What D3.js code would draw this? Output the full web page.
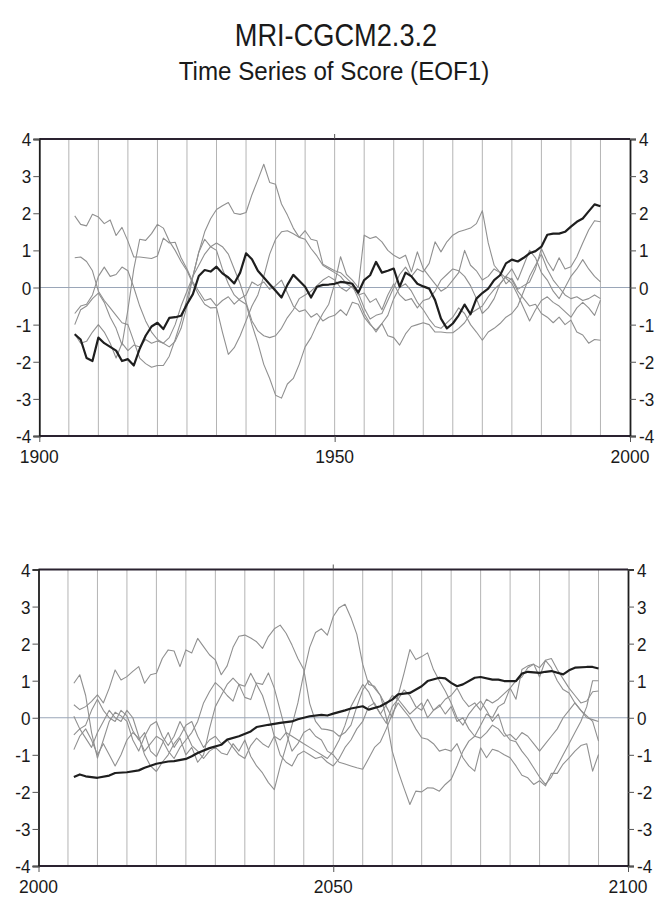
<!DOCTYPE html>
<html><head><meta charset="utf-8">
<script src="https://cdn.jsdelivr.net/npm/d3@7/dist/d3.min.js"></script>
<style>html,body{margin:0;padding:0;background:#fff;}svg{display:block;}</style>
</head><body>
<script>
const titleText = "MRI-CGCM2.3.2";
const subtitleText = "Time Series of Score (EOF1)";
const yTicks = [-4,-3,-2,-1,0,1,2,3,4];
const topXLabels = [1900,1950,2000];
const bottomXLabels = [2000,2050,2100];

// ---- top panel (1906-1995) ----
const topBold = [[1906,-1.26],[1907,-1.4],[1908,-1.9],[1909,-1.98],[1910,-1.35],[1911,-1.5],[1912,-1.6],[1913,-1.7],[1914,-1.98],[1915,-1.93],[1916,-2.1],[1917,-1.65],[1918,-1.3],[1919,-1.05],[1920,-0.95],[1921,-1.12],[1922,-0.82],[1923,-0.8],[1924,-0.76],[1925,-0.45],[1926,-0.18],[1927,0.31],[1928,0.47],[1929,0.43],[1930,0.56],[1931,0.38],[1932,0.27],[1933,0.11],[1934,0.4],[1935,0.92],[1936,0.76],[1937,0.45],[1938,0.27],[1939,0.09],[1940,-0.09],[1941,-0.27],[1942,0.07],[1943,0.34],[1944,0.18],[1945,0.02],[1946,-0.27],[1947,0.02],[1948,0.07],[1949,0.08],[1950,0.1],[1951,0.15],[1952,0.13],[1953,0.1],[1954,-0.14],[1955,0.2],[1956,0.33],[1957,0.69],[1958,0.4],[1959,0.45],[1960,0.51],[1961,0.02],[1962,0.4],[1963,0.3],[1964,0.1],[1965,0.03],[1966,-0.03],[1967,-0.34],[1968,-0.84],[1969,-1.1],[1970,-0.97],[1971,-0.75],[1972,-0.46],[1973,-0.72],[1974,-0.3],[1975,-0.15],[1976,-0.03],[1977,0.2],[1978,0.33],[1979,0.65],[1980,0.75],[1981,0.7],[1982,0.8],[1983,0.92],[1984,0.98],[1985,1.1],[1986,1.42],[1987,1.45],[1988,1.45],[1989,1.5],[1990,1.64],[1991,1.77],[1992,1.86],[1993,2.05],[1994,2.24],[1995,2.19]];

const topThinA = [[1906,1.93],[1907,1.7],[1908,1.66],[1909,1.97],[1910,1.9],[1911,1.72],[1912,1.82],[1913,1.4],[1914,1.62],[1915,1.25],[1916,0.82],[1917,0.82],[1918,0.8],[1919,0.78],[1920,0.85],[1921,1.33],[1922,1.2],[1923,1.22],[1924,0.8],[1925,0.5],[1926,0.15],[1927,-0.1],[1928,-0.35],[1929,-0.3],[1930,-0.5],[1931,-0.35],[1932,-0.25],[1933,-0.45],[1934,-0.3],[1935,-0.2],[1936,0.15],[1937,0.05],[1938,0.15],[1939,-0.05],[1940,0.05],[1941,0.2],[1942,-0.15],[1943,-0.5],[1944,-0.65],[1945,-0.6],[1946,-0.8],[1947,-0.7],[1948,-0.9],[1949,-0.8],[1950,-0.75],[1951,-0.6],[1952,-0.75],[1953,-0.4],[1954,-0.45],[1955,-0.8],[1956,-1.0],[1957,-1.15],[1958,-0.97],[1959,-1.3],[1960,-1.35],[1961,-1.55],[1962,-1.25],[1963,-1.05],[1964,-1.0],[1965,-0.95],[1966,-1.0],[1967,-1.2],[1968,-1.2],[1969,-1.22],[1970,-1.22],[1971,-1.1],[1972,-0.95],[1973,-0.7],[1974,-0.6],[1975,-0.5],[1976,-0.25],[1977,-0.05],[1978,0.1],[1979,0.3],[1980,0.2],[1981,-0.1],[1982,-0.3],[1983,-0.5],[1984,-0.45],[1985,-0.7],[1986,-0.8],[1987,-0.95],[1988,-0.8],[1989,-1.0],[1990,-0.88],[1991,-1.2],[1992,-1.28],[1993,-1.5],[1994,-1.4],[1995,-1.42]];

const topThinB = [[1906,0.8],[1907,0.82],[1908,0.7],[1909,0.45],[1910,-0.1],[1911,-0.35],[1912,-0.55],[1913,-0.75],[1914,-0.95],[1915,-1.0],[1916,-1.45],[1917,-1.9],[1918,-2.05],[1919,-2.15],[1920,-2.1],[1921,-2.1],[1922,-1.85],[1923,-1.4],[1924,-0.9],[1925,-0.3],[1926,0.3],[1927,0.95],[1928,1.5],[1929,1.85],[1930,2.1],[1931,2.2],[1932,2.29],[1933,2.0],[1934,1.97],[1935,2.02],[1936,2.5],[1937,2.9],[1938,3.32],[1939,2.83],[1940,2.78],[1941,2.25],[1942,1.95],[1943,1.6],[1944,1.35],[1945,1.3],[1946,1.05],[1947,0.85],[1948,0.6],[1949,0.5],[1950,0.4],[1951,0.3],[1952,0.1],[1953,0.0],[1954,-0.15],[1955,-0.55],[1956,-0.85],[1957,-0.75],[1958,-0.7],[1959,-0.35],[1960,0.0],[1961,0.35],[1962,0.55],[1963,0.3],[1964,0.5],[1965,0.42],[1966,0.65],[1967,1.23],[1968,0.96],[1969,1.23],[1970,1.41],[1971,1.5],[1972,1.55],[1973,1.6],[1974,1.72],[1975,2.07],[1976,1.2],[1977,0.6],[1978,0.4],[1979,0.25],[1980,0.11],[1981,-0.2],[1982,-0.55],[1983,-0.9],[1984,-0.6],[1985,-0.35],[1986,-0.25],[1987,-0.4],[1988,-0.5],[1989,-0.65],[1990,-0.8],[1991,-0.55],[1992,-0.4],[1993,-0.55],[1994,-0.75],[1995,-0.34]];

const topThinC = [[1906,-0.7],[1907,-0.5],[1908,-0.45],[1909,-0.2],[1910,0.3],[1911,0.55],[1912,0.3],[1913,0.35],[1914,0.55],[1915,0.45],[1916,0.0],[1917,-0.5],[1918,-0.9],[1919,-1.2],[1920,-1.4],[1921,-1.5],[1922,-1.6],[1923,-1.45],[1924,-1.1],[1925,-0.5],[1926,0.3],[1927,0.95],[1928,1.3],[1929,1.1],[1930,1.0],[1931,0.5],[1932,0.1],[1933,-0.2],[1934,-0.35],[1935,-0.45],[1936,-1.0],[1937,-1.5],[1938,-2.07],[1939,-2.45],[1940,-2.9],[1941,-2.98],[1942,-2.6],[1943,-2.45],[1944,-2.07],[1945,-1.6],[1946,-1.35],[1947,-1.0],[1948,-0.7],[1949,-0.45],[1950,0.1],[1951,0.83],[1952,0.35],[1953,0.2],[1954,0.0],[1955,1.41],[1956,1.32],[1957,1.37],[1958,1.23],[1959,1.0],[1960,0.87],[1961,0.78],[1962,0.87],[1963,0.42],[1964,0.96],[1965,0.51],[1966,0.3],[1967,0.1],[1968,-0.1],[1969,0.0],[1970,0.2],[1971,0.4],[1972,1.0],[1973,0.6],[1974,0.45],[1975,0.2],[1976,0.3],[1977,0.5],[1978,0.4],[1979,0.1],[1980,0.25],[1981,-0.05],[1982,0.05],[1983,0.15],[1984,0.5],[1985,1.05],[1986,0.7],[1987,0.45],[1988,0.8],[1989,0.5],[1990,0.56],[1991,0.83],[1992,1.2],[1993,1.55],[1994,1.8],[1995,1.77]];

const topThinD = [[1906,-1.0],[1907,-0.6],[1908,-0.5],[1909,-0.3],[1910,-0.15],[1911,-0.4],[1912,-0.8],[1913,-1.1],[1914,-1.55],[1915,-0.6],[1916,0.5],[1917,1.3],[1918,1.27],[1919,1.45],[1920,1.7],[1921,1.6],[1922,1.25],[1923,1.0],[1924,0.7],[1925,0.45],[1926,0.1],[1927,-0.2],[1928,-0.45],[1929,-0.55],[1930,-0.54],[1931,-1.2],[1932,-1.8],[1933,-1.62],[1934,-1.3],[1935,-0.9],[1936,-0.5],[1937,-0.2],[1938,0.3],[1939,0.9],[1940,1.3],[1941,1.5],[1942,1.53],[1943,1.45],[1944,1.35],[1945,1.53],[1946,1.3],[1947,1.26],[1948,0.63],[1949,0.54],[1950,0.45],[1951,0.4],[1952,0.25],[1953,0.1],[1954,-0.2],[1955,-0.15],[1956,-0.4],[1957,-0.3],[1958,-0.6],[1959,-0.2],[1960,0.1],[1961,-0.2],[1962,-0.35],[1963,-0.3],[1964,-0.55],[1965,-0.35],[1966,-0.3],[1967,-0.1],[1968,0.2],[1969,0.35],[1970,0.5],[1971,0.45],[1972,0.3],[1973,0.05],[1974,-0.3],[1975,-0.7],[1976,-0.55],[1977,-0.3],[1978,0.1],[1979,0.3],[1980,0.5],[1981,0.2],[1982,0.6],[1983,1.0],[1984,0.8],[1985,0.4],[1986,0.2],[1987,-0.1],[1988,-0.3],[1989,0.0],[1990,0.3],[1991,0.5],[1992,0.75],[1993,0.5],[1994,0.3],[1995,0.15]];

const topThinE = [[1906,-1.25],[1907,-1.5],[1908,-1.45],[1909,-1.2],[1910,-1.0],[1911,-1.2],[1912,-1.5],[1913,-1.9],[1914,-1.5],[1915,-1.7],[1916,-1.55],[1917,-1.6],[1918,-1.4],[1919,-1.5],[1920,-1.44],[1921,-1.5],[1922,-1.35],[1923,-1.0],[1924,-0.5],[1925,-0.1],[1926,0.3],[1927,0.6],[1928,0.9],[1929,1.1],[1930,1.2],[1931,1.1],[1932,0.9],[1933,0.5],[1934,0.1],[1935,-0.4],[1936,-0.9],[1937,-1.17],[1938,-1.3],[1939,-1.35],[1940,-1.3],[1941,-1.1],[1942,-0.81],[1943,-0.6],[1944,-0.3],[1945,-0.2],[1946,-0.1],[1947,0.05],[1948,0.2],[1949,0.3],[1950,0.2],[1951,0.0],[1952,-0.1],[1953,0.05],[1954,-0.3],[1955,-0.7],[1956,-0.97],[1957,-1.2],[1958,-0.97],[1959,-0.75],[1960,-0.3],[1961,0.0],[1962,0.1],[1963,-0.1],[1964,-0.4],[1965,-0.6],[1966,-0.85],[1967,-1.05],[1968,-1.1],[1969,-0.95],[1970,-0.8],[1971,-0.55],[1972,-0.7],[1973,-1.0],[1974,-1.2],[1975,-1.42],[1976,-1.2],[1977,-1.1],[1978,-0.97],[1979,-0.8],[1980,-0.7],[1981,-0.5],[1982,-0.1],[1983,0.3],[1984,0.6],[1985,0.9],[1986,0.5],[1987,0.2],[1988,0.0],[1989,-0.2],[1990,-0.3],[1991,-0.25],[1992,-0.35],[1993,-0.3],[1994,-0.2],[1995,-0.3]];

// ---- bottom panel (2006-2095) ----
const bottomBold = [[2006,-1.6],[2007,-1.53],[2008,-1.58],[2010,-1.62],[2012,-1.56],[2013,-1.49],[2015,-1.47],[2017,-1.42],[2018,-1.35],[2020,-1.24],[2022,-1.18],[2023,-1.17],[2025,-1.11],[2026,-1.04],[2027,-0.95],[2029,-0.82],[2031,-0.73],[2032,-0.59],[2034,-0.5],[2036,-0.37],[2037,-0.25],[2039,-0.19],[2041,-0.14],[2043,-0.1],[2044,-0.04],[2046,0.04],[2048,0.08],[2049,0.06],[2050,0.11],[2052,0.2],[2053,0.25],[2055,0.31],[2056,0.22],[2058,0.31],[2060,0.49],[2061,0.63],[2063,0.67],[2065,0.85],[2066,0.99],[2068,1.08],[2069,1.06],[2070,0.94],[2071,0.85],[2072,0.9],[2074,1.08],[2075,1.1],[2077,1.03],[2078,1.03],[2079,0.99],[2081,0.99],[2082,1.19],[2083,1.24],[2085,1.21],[2086,1.24],[2087,1.26],[2089,1.17],[2090,1.28],[2091,1.35],[2093,1.37],[2094,1.37],[2095,1.33]];

const bottomThinA = [[2006,0.93],[2007,1.16],[2008,0.6],[2009,-0.4],[2010,-1.09],[2011,-0.6],[2012,-0.1],[2013,0.15],[2014,0.05],[2015,-0.1],[2016,-0.6],[2017,-0.9],[2018,-0.5],[2019,-0.2],[2020,-0.1],[2021,-0.5],[2022,-0.75],[2023,-0.5],[2024,-0.1],[2025,-0.4],[2026,-0.75],[2027,-0.9],[2028,-1.1],[2029,-0.9],[2030,-0.8],[2031,-0.95],[2032,-1.0],[2033,-0.7],[2034,-0.9],[2035,-0.6],[2036,-1.04],[2037,-1.3],[2038,-1.49],[2039,-1.75],[2040,-1.94],[2041,-1.31],[2042,-0.77],[2043,-0.2],[2044,0.4],[2045,1.2],[2046,1.9],[2047,2.3],[2048,2.4],[2049,2.23],[2050,2.73],[2051,2.97],[2052,3.06],[2053,2.7],[2054,2.25],[2055,1.44],[2056,0.9],[2057,0.85],[2058,0.6],[2059,0.0],[2060,-0.9],[2061,-1.44],[2062,-1.9],[2063,-2.34],[2064,-1.98],[2065,-2.0],[2066,-1.89],[2067,-1.9],[2068,-1.98],[2069,-1.8],[2070,-1.66],[2071,-1.3],[2072,-0.9],[2073,-0.63],[2074,-0.5],[2075,-0.2],[2076,0.1],[2077,0.0],[2078,0.3],[2079,0.4],[2080,0.8],[2081,0.5],[2082,1.3],[2083,1.4],[2084,1.45],[2085,1.1],[2086,1.55],[2087,1.35],[2088,1.0],[2089,0.76],[2090,0.67],[2091,0.4],[2092,0.2],[2093,0.05],[2094,-0.1],[2095,-0.63]];

const bottomThinB = [[2006,0.35],[2007,0.22],[2008,0.3],[2009,0.44],[2010,0.62],[2011,0.4],[2012,0.8],[2013,1.29],[2014,1.02],[2015,1.11],[2016,1.25],[2017,1.38],[2018,0.93],[2019,1.16],[2020,1.2],[2021,1.6],[2022,1.83],[2023,1.8],[2024,1.38],[2025,1.83],[2026,1.75],[2027,2.14],[2028,1.92],[2029,1.7],[2030,1.56],[2031,1.16],[2032,1.4],[2033,1.9],[2034,2.2],[2035,2.23],[2036,2.15],[2037,2.05],[2038,1.87],[2039,2.19],[2040,2.4],[2041,2.5],[2042,2.28],[2043,1.96],[2044,1.6],[2045,1.3],[2046,0.39],[2047,-0.1],[2048,-0.3],[2049,-0.32],[2050,-0.36],[2051,-0.5],[2052,-0.4],[2053,-0.2],[2054,0.3],[2055,0.75],[2056,1.0],[2057,0.8],[2058,0.6],[2059,0.3],[2060,0.0],[2061,0.6],[2062,1.2],[2063,1.84],[2064,1.57],[2065,1.65],[2066,1.75],[2067,1.3],[2068,1.0],[2069,0.72],[2070,0.4],[2071,0.0],[2072,-0.2],[2073,0.1],[2074,0.3],[2075,0.45],[2076,0.2],[2077,-0.1],[2078,0.1],[2079,-0.4],[2080,-0.6],[2081,-0.65],[2082,-0.9],[2083,-1.1],[2084,-1.35],[2085,-1.6],[2086,-1.8],[2087,-1.6],[2088,-1.3],[2089,-1.0],[2090,-0.7],[2091,-0.4],[2092,-0.1],[2093,0.3],[2094,1.0],[2095,1.0]];

const bottomThinC = [[2006,0.04],[2007,-0.3],[2008,-0.2],[2009,0.2],[2010,0.5],[2011,0.2],[2012,0.0],[2013,-0.1],[2014,0.2],[2015,0.05],[2016,-0.35],[2017,-0.6],[2018,-0.4],[2019,-0.9],[2020,-1.05],[2021,-0.7],[2022,-0.4],[2023,-0.8],[2024,-0.55],[2025,-1.0],[2026,-0.8],[2027,-1.2],[2028,-1.0],[2029,-0.3],[2030,0.3],[2031,0.6],[2032,0.9],[2033,1.07],[2034,0.9],[2035,0.55],[2036,0.49],[2037,0.94],[2038,0.9],[2039,1.21],[2040,0.8],[2041,0.2],[2042,-0.4],[2043,-0.9],[2044,-0.7],[2045,-0.4],[2046,-0.3],[2047,-0.5],[2048,-0.6],[2049,-0.9],[2050,-1.0],[2051,-1.2],[2052,-1.25],[2053,-1.3],[2054,-1.35],[2055,-1.39],[2056,-1.1],[2057,-0.8],[2058,-0.65],[2059,-0.3],[2060,0.1],[2061,0.4],[2062,0.2],[2063,0.0],[2064,-0.3],[2065,-0.54],[2066,-0.58],[2067,-0.7],[2068,-0.9],[2069,-0.85],[2070,-0.9],[2071,-0.7],[2072,-1.08],[2073,-1.3],[2074,-1.44],[2075,-0.81],[2076,-1.08],[2077,-0.85],[2078,-0.9],[2079,-1.0],[2080,-1.08],[2081,-1.3],[2082,-1.55],[2083,-1.62],[2084,-1.8],[2085,-1.7],[2086,-1.84],[2087,-1.5],[2088,-1.5],[2089,-1.25],[2090,-1.08],[2091,-0.9],[2092,-0.75],[2093,-0.7],[2094,-1.44],[2095,-0.99]];

const bottomThinD = [[2006,-0.46],[2007,-0.3],[2008,-0.55],[2009,-0.8],[2010,-0.4],[2011,-0.1],[2012,0.2],[2013,0.0],[2014,-0.1],[2015,0.2],[2016,0.0],[2017,-0.5],[2018,-1.0],[2019,-1.3],[2020,-1.45],[2021,-1.2],[2022,-1.0],[2023,-0.7],[2024,-0.5],[2025,-0.2],[2026,-0.1],[2027,-0.5],[2028,-0.8],[2029,-0.6],[2030,-0.5],[2031,-0.7],[2032,-0.6],[2033,-0.8],[2034,-1.0],[2035,-1.1],[2036,-0.75],[2037,-0.55],[2038,-0.7],[2039,-0.8],[2040,-0.5],[2041,-0.6],[2042,-0.4],[2043,-0.5],[2044,-0.6],[2045,-0.7],[2046,-0.8],[2047,-0.9],[2048,-1.0],[2049,-1.1],[2050,-0.9],[2051,-0.6],[2052,-0.2],[2053,0.3],[2054,0.6],[2055,0.9],[2056,0.7],[2057,0.35],[2058,0.1],[2059,-0.15],[2060,0.3],[2061,0.5],[2062,0.75],[2063,0.6],[2064,0.3],[2065,0.2],[2066,0.5],[2067,0.2],[2068,0.3],[2069,0.5],[2070,0.6],[2071,0.8],[2072,0.5],[2073,0.3],[2074,0.4],[2075,0.2],[2076,0.5],[2077,0.4],[2078,0.5],[2079,0.65],[2080,0.8],[2081,1.0],[2082,1.1],[2083,1.35],[2084,1.44],[2085,1.35],[2086,1.55],[2087,1.6],[2088,1.3],[2089,1.05],[2090,0.8],[2091,0.6],[2092,0.4],[2093,0.45],[2094,0.7],[2095,0.72]];

const bottomThinE = [[2006,-0.86],[2007,-0.5],[2008,-0.3],[2009,-0.6],[2010,-1.0],[2011,-0.7],[2012,-1.0],[2013,-1.3],[2014,-1.0],[2015,-0.6],[2016,-0.4],[2017,-0.55],[2018,-0.9],[2019,-0.7],[2020,-0.5],[2021,-0.6],[2022,-0.9],[2023,-1.1],[2024,-0.8],[2025,-0.6],[2026,-0.4],[2027,-0.1],[2028,0.4],[2029,0.7],[2030,0.95],[2031,0.8],[2032,0.6],[2033,0.45],[2034,0.9],[2035,0.85],[2036,1.2],[2037,0.9],[2038,0.6],[2039,0.1],[2040,-0.5],[2041,-1.0],[2042,-1.2],[2043,-1.3],[2044,-1.0],[2045,-0.9],[2046,-1.0],[2047,-1.1],[2048,-1.05],[2049,-1.2],[2050,-1.3],[2051,-1.1],[2052,-0.8],[2053,-0.6],[2054,-0.3],[2055,-0.1],[2056,0.3],[2057,0.4],[2058,0.1],[2059,0.35],[2060,0.6],[2061,0.5],[2062,0.3],[2063,0.1],[2064,0.25],[2065,0.4],[2066,0.0],[2067,0.2],[2068,0.35],[2069,0.1],[2070,0.3],[2071,-0.1],[2072,0.0],[2073,-0.3],[2074,-0.5],[2075,-0.55],[2076,-0.4],[2077,-0.2],[2078,-0.3],[2079,-0.5],[2080,-0.45],[2081,-0.6],[2082,-0.4],[2083,-0.5],[2084,-0.7],[2085,-0.9],[2086,-0.7],[2087,-0.5],[2088,-0.3],[2089,0.0],[2090,0.2],[2091,0.4],[2092,0.2],[2093,0.0],[2094,-0.05],[2095,-0.1]];

const W = 669, H = 900;
const svg = d3.select("body").append("svg").attr("width", W).attr("height", H);
const FONT = "'Liberation Sans', Arial, Helvetica, sans-serif";

function txt(x, y, s, size, anchor, sx) {
  svg.append("text")
    .attr("transform", `translate(${x},${y}) scale(${sx},1)`)
    .attr("text-anchor", anchor)
    .attr("font-family", FONT)
    .attr("font-size", size)
    .attr("fill", "#1a1a1a")
    .text(s);
}

txt(336, 46, titleText, 32, "middle", 0.85);
txt(334, 80, subtitleText, 26, "middle", 0.93);

function panel(cfg) {
  const x = d3.scaleLinear().domain(cfg.domain).range([cfg.left, cfg.right]);
  const y = d3.scaleLinear().domain([-4, 4]).range([cfg.bottom, cfg.top]);
  const g = svg.append("g");

  // vertical grid every 5 years
  const grid = d3.range(cfg.domain[0] + 5, cfg.domain[1], 5);
  g.selectAll("line.grid").data(grid).join("line")
    .attr("x1", d => x(d)).attr("x2", d => x(d))
    .attr("y1", y(-4)).attr("y2", y(4))
    .attr("stroke", "#b4b4b4").attr("stroke-width", 1);

  // zero line
  g.append("line").attr("x1", x(cfg.domain[0])).attr("x2", x(cfg.domain[1]))
    .attr("y1", y(0)).attr("y2", y(0)).attr("stroke", "#9aa6b8").attr("stroke-width", 1.1);

  const line = d3.line().x(d => x(d[0])).y(d => y(d[1]));
  cfg.thin.forEach(s => {
    g.append("path").datum(s).attr("d", line).attr("fill", "none")
      .attr("stroke", "#909090").attr("stroke-width", 1.1).attr("stroke-linejoin", "round");
  });
  g.append("path").datum(cfg.bold).attr("d", line).attr("fill", "none")
    .attr("stroke", "#1e1e1e").attr("stroke-width", 2.2).attr("stroke-linejoin", "round");

  // frame
  g.append("line").attr("x1", x(cfg.domain[0])).attr("x2", x(cfg.domain[1]))
    .attr("y1", y(4)).attr("y2", y(4)).attr("stroke", "#2a2230").attr("stroke-width", 2);
  g.append("line").attr("x1", x(cfg.domain[0])).attr("x2", x(cfg.domain[1]))
    .attr("y1", y(-4)).attr("y2", y(-4)).attr("stroke", "#2a2230").attr("stroke-width", 2);

  const yAxisL = d3.axisLeft(y).tickValues(yTicks).tickSize(6).tickFormat("");
  const yAxisR = d3.axisRight(y).tickValues(yTicks).tickSize(6).tickFormat("");
  const gl = g.append("g").attr("transform", `translate(${x(cfg.domain[0])},0)`).call(yAxisL);
  const gr = g.append("g").attr("transform", `translate(${x(cfg.domain[1])},0)`).call(yAxisR);
  [gl, gr].forEach(a => {
    a.select(".domain").attr("stroke", "#1e1e1e").attr("stroke-width", 1.8);
    a.selectAll(".tick line").attr("stroke", "#555").attr("stroke-width", 1);
  });
  yTicks.forEach(t => {
    txt(x(cfg.domain[0]) - 8, y(t) + 7, String(t), 19, "end", 0.9);
    txt(x(cfg.domain[1]) + 9, y(t) + 7, String(t), 19, "start", 0.9);
  });

  const xAxis = d3.axisBottom(x).tickValues(cfg.xLabels).tickSize(6).tickFormat("");
  const gx = g.append("g").attr("transform", `translate(0,${y(-4)})`).call(xAxis);
  gx.select(".domain").remove();
  gx.selectAll(".tick line").attr("stroke", "#555");
  // small tick above the frame at mid century
  g.append("line").attr("x1", x(cfg.xLabels[1])).attr("x2", x(cfg.xLabels[1]))
    .attr("y1", y(4) - 5).attr("y2", y(4)).attr("stroke", "#555");
  cfg.xLabels.forEach(t => txt(x(t), y(-4) + 27, String(t), 19, "middle", 0.92));
}

panel({domain: [1900, 2000], left: 39.3, right: 630, top: 139, bottom: 436,
       xLabels: topXLabels, bold: topBold,
       thin: [topThinA, topThinB, topThinC, topThinD, topThinE]});
panel({domain: [2000, 2100], left: 38.5, right: 628, top: 569.5, bottom: 866,
       xLabels: bottomXLabels, bold: bottomBold,
       thin: [bottomThinA, bottomThinB, bottomThinC, bottomThinD, bottomThinE]});
</script>
</body></html>
